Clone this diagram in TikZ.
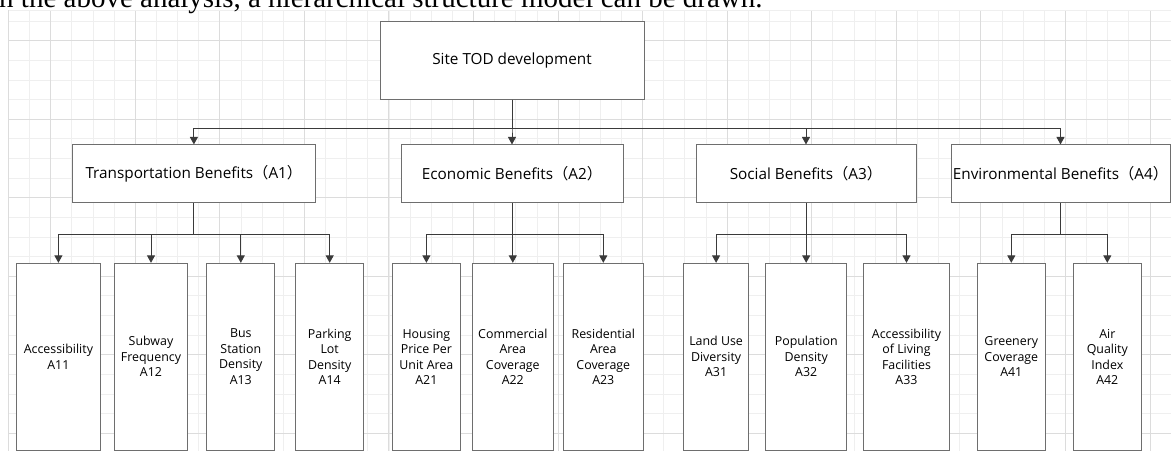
\documentclass[tikz,border=0pt]{standalone}
\usepackage{fontspec}
\setmainfont{Liberation Serif}
\newfontfamily\boxfont{Open Sans}
\newfontfamily\cjk{Noto Sans CJK SC}
\usetikzlibrary{arrows.meta}
\definecolor{gridminor}{HTML}{EFEFEF}
\definecolor{gridmajor}{HTML}{DCDCDC}
\definecolor{boxline}{HTML}{6E6E6E}
\definecolor{linkline}{HTML}{3A3A3A}
\newcommand{\fwp}[1]{{\cjk （}#1{\cjk ）}}
\begin{document}
\begin{tikzpicture}[x=1pt, y=-1pt,
	box/.style={rectangle, draw=boxline, line width=1pt, fill=white, inner sep=0pt, align=center, font=\boxfont\fontsize{15.3}{18}\selectfont},
	leaf/.style={box, minimum height=186.7pt, font=\boxfont\fontsize{12.4}{15.5}\selectfont},
	link/.style={draw=linkline, line width=1pt, -{Triangle[width=8pt,length=7.5pt]}}]
	\useasboundingbox (0,0) rectangle (1171,451);
	% background grid
	\foreach \i in {0,...,55} \draw[gridminor, line width=0.8pt] (8.4+21.14*\i,10) -- (8.4+21.14*\i,451);
	\foreach \j in {0,...,22} \draw[gridminor, line width=0.8pt] (8.4,21.07+19.63*\j) -- (1171,21.07+19.63*\j);
	\foreach \k in {0,...,13} \draw[gridmajor, line width=0.9pt] (50.7+84.56*\k,10) -- (50.7+84.56*\k,451);
	\foreach \k in {0,...,5} \draw[gridmajor, line width=0.9pt] (8.4,40.7+78.52*\k) -- (1171,40.7+78.52*\k);
	\draw[gridminor, line width=0.8pt] (1171,10) -- (8.4,10);
	\draw[gridmajor, line width=0.9pt] (8.4,10) -- (8.4,451);
	\node[anchor=base west, inner sep=0pt, font=\fontsize{29}{30}\selectfont] (caption) at (-1,7.5) {n the above analysis, a hierarchical structure model can be drawn.};
	% goal
	\node[box, minimum width=264pt, minimum height=77.6pt] (top) at (512,60.5) {Site TOD development};
	% criteria
	\node[box, minimum width=242.3pt, minimum height=57.7pt] (A1) at (193.9,173.8) {Transportation Benefits\fwp{A1}};
	\node[box, minimum width=222pt, minimum height=57.7pt] (A2) at (512,173.8) {Economic Benefits\fwp{A2}};
	\node[box, minimum width=220pt, minimum height=57.7pt] (A3) at (806,173.8) {Social Benefits\fwp{A3}};
	\node[box, minimum width=219pt, minimum height=57.7pt] (A4) at (1060.5,173.8) {Environmental Benefits\fwp{A4}};
	% indicators
	\node[leaf, minimum width=84.6pt] (A11) at (58.4,356.7) {Accessibility\\A11};
	\node[leaf, minimum width=73.9pt] (A12) at (151,356.7) {Subway\\Frequency\\A12};
	\node[leaf, minimum width=68.1pt] (A13) at (240.8,356.7) {Bus\\Station\\Density\\A13};
	\node[leaf, minimum width=67.8pt] (A14) at (329.7,356.7) {Parking\\Lot\\Density\\A14};
	\node[leaf, minimum width=68.1pt] (A21) at (426.4,356.7) {Housing\\Price Per\\Unit Area\\A21};
	\node[leaf, minimum width=80.4pt] (A22) at (512.8,356.7) {Commercial\\Area\\Coverage\\A22};
	\node[leaf, minimum width=80pt] (A23) at (603.3,356.7) {Residential\\Area\\Coverage\\A23};
	\node[leaf, minimum width=64.8pt] (A31) at (716.1,356.7) {Land Use\\Diversity\\A31};
	\node[leaf, minimum width=80.7pt] (A32) at (806.2,356.7) {Population\\Density\\A32};
	\node[leaf, minimum width=85.9pt] (A33) at (906.5,356.7) {Accessibility\\of Living\\Facilities\\A33};
	\node[leaf, minimum width=68.5pt] (A41) at (1011.3,356.7) {Greenery\\Coverage\\A41};
	\node[leaf, minimum width=68.6pt] (A42) at (1107.3,356.7) {Air\\Quality\\Index\\A42};
	% connectors
	\draw[link] (top.south) -- ++(0,29) -| (A1.north);
	\draw[link] (top.south) -- ++(0,29) -| (A2.north);
	\draw[link] (top.south) -- ++(0,29) -| (A3.north);
	\draw[link] (top.south) -- ++(0,29) -| (A4.north);
	\draw[link] (A1.south) -- ++(0,31.3) -| (A11.north);
	\draw[link] (A1.south) -- ++(0,31.3) -| (A12.north);
	\draw[link] (A1.south) -- ++(0,31.3) -| (A13.north);
	\draw[link] (A1.south) -- ++(0,31.3) -| (A14.north);
	\draw[link] (A2.south) -- ++(0,31.3) -| (A21.north);
	\draw[link] (A2.south) -- ++(0,31.3) -| (A22.north);
	\draw[link] (A2.south) -- ++(0,31.3) -| (A23.north);
	\draw[link] (A3.south) -- ++(0,31.3) -| (A31.north);
	\draw[link] (A3.south) -- ++(0,31.3) -| (A32.north);
	\draw[link] (A3.south) -- ++(0,31.3) -| (A33.north);
	\draw[link] (A4.south) -- ++(0,31.3) -| (A41.north);
	\draw[link] (A4.south) -- ++(0,31.3) -| (A42.north);
\end{tikzpicture}
\end{document}
